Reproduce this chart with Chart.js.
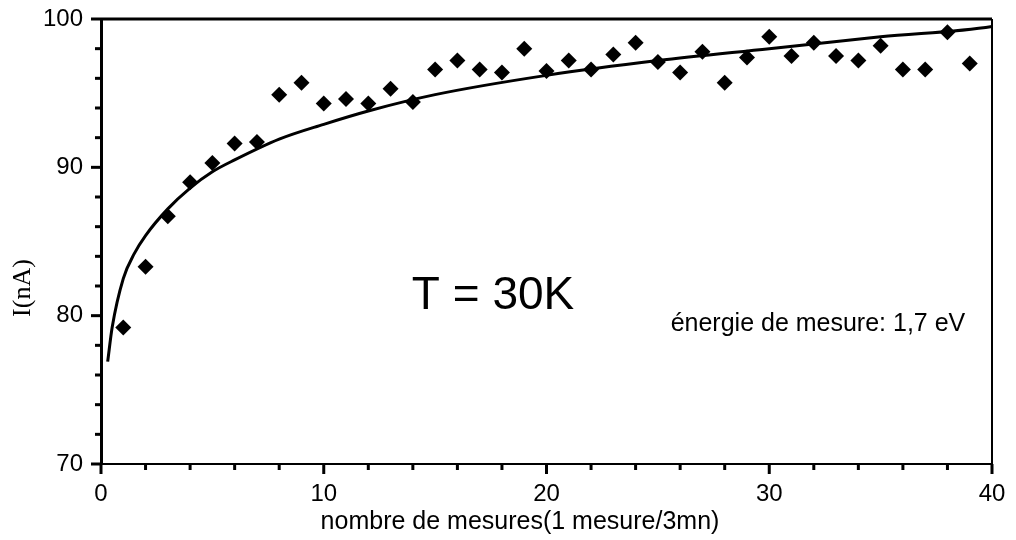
<!DOCTYPE html>
<html>
<head>
<meta charset="utf-8">
<script src="https://cdn.jsdelivr.net/npm/chart.js@4/dist/chart.umd.min.js"></script>
<style>
  html, body { margin: 0; padding: 0; background: #fff; }
  #wrap { width: 1016px; height: 540px; }
</style>
</head>
<body>
<div id="wrap"><canvas id="idCanv_courant"></canvas></div>
<script>
// mesures du courant, une toutes les 3 minutes
const mesureIndex = [1, 2, 3, 4, 5, 6, 7, 8, 9, 10, 11, 12, 13, 14, 15, 16, 17, 18, 19, 20, 21, 22, 23, 24, 25, 26, 27, 28, 29, 30, 31, 32, 33, 34, 35, 36, 37, 38, 39];
const courantValues = [79.2, 83.3, 86.7, 89.0, 90.3, 91.6, 91.7, 94.9, 95.7, 94.3, 94.6, 94.3, 95.3, 94.4, 96.6, 97.2, 96.6, 96.4, 98.0, 96.5, 97.2, 96.6, 97.6, 98.4, 97.1, 96.4, 97.8, 95.7, 97.4, 98.8, 97.5, 98.4, 97.5, 97.2, 98.2, 96.6, 96.6, 99.1, 97.0];

// courbe d'ajustement
const ajustX = [0.3, 0.5, 1, 1.5, 2, 3, 4, 5, 6, 8, 10, 12, 15, 20, 25, 30, 35, 40, 40.3];
const ajustY = [76.9, 79.2, 82.5, 84.2, 85.4, 87.2, 88.6, 89.7, 90.5, 91.9, 92.9, 93.8, 94.9, 96.2, 97.2, 98.0, 98.8, 99.5, 99.6];

const yTickLabels = [70, 80, 90, 100];
const xTickLabels = [0, 10, 20, 30, 40];

const fontSans = "'Liberation Sans', Arial, sans-serif";
const fontSerif = "'Liberation Serif', 'Times New Roman', serif";

// ticks, cadre et textes
const cadrePlugin = {
  id: "cadre",
  afterDraw(chart) {
    const ctx = chart.ctx;
    const xs = chart.scales.x;
    const ys = chart.scales.y;
    const area = chart.chartArea;
    ctx.save();
    ctx.strokeStyle = "#000";
    ctx.lineCap = "butt";

    // cadre
    ctx.lineWidth = 3;
    ctx.beginPath();
    ctx.moveTo(area.left, area.top);
    ctx.lineTo(area.right, area.top);
    ctx.stroke();
    ctx.lineWidth = 2;
    ctx.beginPath();
    ctx.moveTo(area.right, area.top);
    ctx.lineTo(area.right, area.bottom);
    ctx.stroke();

    // ticks y
    ctx.lineWidth = 3;
    for (let v = 70; v <= 100; v += 2) {
      const py = ys.getPixelForValue(v);
      const len = v % 10 === 0 ? 10 : 6;
      ctx.beginPath();
      ctx.moveTo(area.left, py);
      ctx.lineTo(area.left - len, py);
      ctx.stroke();
    }
    // ticks x
    for (let v = 0; v <= 40; v += 2) {
      const px = xs.getPixelForValue(v);
      const len = v % 10 === 0 ? 10 : 6;
      ctx.beginPath();
      ctx.moveTo(px, area.bottom);
      ctx.lineTo(px, area.bottom + len);
      ctx.stroke();
    }

    // titres des axes
    ctx.fillStyle = "#000";
    ctx.textBaseline = "middle";
    ctx.textAlign = "center";
    ctx.font = `25px ${fontSans}`;
    ctx.fillText("nombre de mesures(1 mesure/3mn)", 520, 522);
    ctx.save();
    ctx.translate(23, 288);
    ctx.rotate(-Math.PI / 2);
    ctx.font = `26px ${fontSerif}`;
    ctx.fillText("I(nA)", 0, 0);
    ctx.restore();

    // annotations
    ctx.font = `46px ${fontSans}`;
    ctx.fillText("T = 30K", xs.getPixelForValue(17.6), ys.getPixelForValue(81.3));
    ctx.textAlign = "right";
    ctx.font = `25px ${fontSans}`;
    ctx.fillText("énergie de mesure: 1,7 eV", xs.getPixelForValue(38.8), ys.getPixelForValue(79.4));
    ctx.restore();
  },
};

const courantChart = {
  config: {
    type: "scatter",
    data: {
      datasets: [
        {
          data: mesureIndex.map((x, i) => ({ x, y: courantValues[i] })),
          pointStyle: "rectRot",
          pointRadius: 8,
          backgroundColor: "#000",
          borderColor: "#000",
          borderWidth: 0,
          showLine: false,
        },
        {
          data: ajustX.map((x, i) => ({ x, y: ajustY[i] })),
          showLine: true,
          pointRadius: 0,
          borderColor: "#000",
          borderWidth: 3,
          cubicInterpolationMode: "monotone",
          clip: false,
        },
      ],
    },
    options: {
      responsive: false,
      animation: false,
      layout: {
        padding: { top: 19, right: 24, left: 0, bottom: 0 },
      },
      plugins: {
        legend: { display: false },
        tooltip: { enabled: false },
      },
      scales: {
        x: {
          type: "linear",
          min: 0,
          max: 40,
          afterFit: (scale) => {
            scale.height = 76;
            scale.paddingLeft = 0;
            scale.paddingRight = 0;
          },
          afterBuildTicks: (scale) => {
            scale.ticks = xTickLabels.map((v) => ({ value: v }));
          },
          grid: { display: false, drawTicks: false },
          border: { display: true, color: "#000", width: 2 },
          ticks: {
            color: "#000",
            padding: 16,
            maxRotation: 0,
            font: { family: fontSans, size: 24 },
          },
        },
        y: {
          min: 70,
          max: 100,
          afterFit: (scale) => {
            scale.width = 101;
            scale.paddingTop = 0;
            scale.paddingBottom = 0;
          },
          afterBuildTicks: (scale) => {
            scale.ticks = yTickLabels.map((v) => ({ value: v }));
          },
          grid: { display: false, drawTicks: false },
          border: { display: true, color: "#000", width: 3 },
          ticks: {
            color: "#000",
            padding: 18,
            font: { family: fontSans, size: 24 },
          },
        },
      },
    },
    plugins: [cadrePlugin],
  },
  canvas: null,
};

const canv = document.getElementById("idCanv_courant");
canv.width = 1016;
canv.height = 540;
courantChart.canvas = new Chart(canv, courantChart.config);
</script>
</body>
</html>
